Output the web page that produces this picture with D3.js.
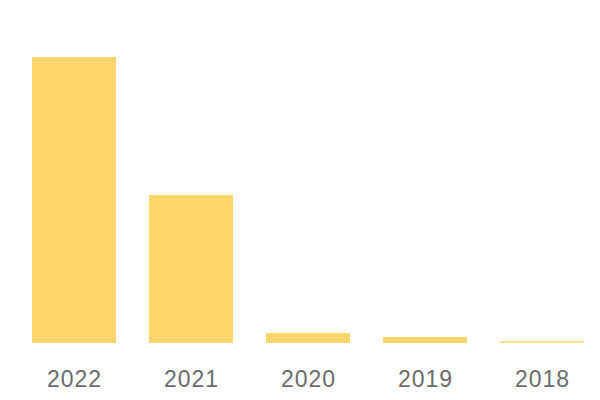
<!DOCTYPE html>
<html>
<head>
<meta charset="utf-8">
<script src="https://cdn.jsdelivr.net/npm/d3@7"></script>
<style>
  body { margin: 0; background: #fff; }
  svg { display: block; }
</style>
</head>
<body>
<script>
'use strict';
(function() {

    const years = ["2022", "2021", "2020", "2019", "2018"];
    const values = [286, 148, 10, 6, 1.5];

    const width = 600, height = 400;
    const baseline = 343, plotTop = 57;

    const svg = d3.select("body").append("svg")
        .attr("width", width)
        .attr("height", height);

    const x = d3.scaleBand()
        .domain(years)
        .range([15.5, 600.5])
        .paddingInner(0.282)
        .paddingOuter(0.141);

    const y = d3.scaleLinear()
        .domain([0, d3.max(values)])
        .range([baseline, plotTop]);

    svg.selectAll("rect")
        .data(years)
        .enter()
        .append("rect")
        .attr("x", d => x(d))
        .attr("y", (d, i) => y(values[i]))
        .attr("width", x.bandwidth())
        .attr("height", (d, i) => baseline - y(values[i]))
        .attr("fill", "#ffd66b");

    // year labels under the bars
    let xAxis = svg.append("g")
        .attr("transform", "translate(0," + baseline + ")")
        .call(d3.axisBottom(x).tickSize(0).tickPadding(28));

    xAxis.select(".domain").remove();
    xAxis.selectAll("text")
        .attr("font-family", "'Liberation Sans', Arial, sans-serif")
        .attr("font-size", "23px")
        .attr("letter-spacing", "1px")
        .attr("dx", "0.5px")
        .attr("fill", "#6b6b6b");
})()
</script>
</body>
</html>
